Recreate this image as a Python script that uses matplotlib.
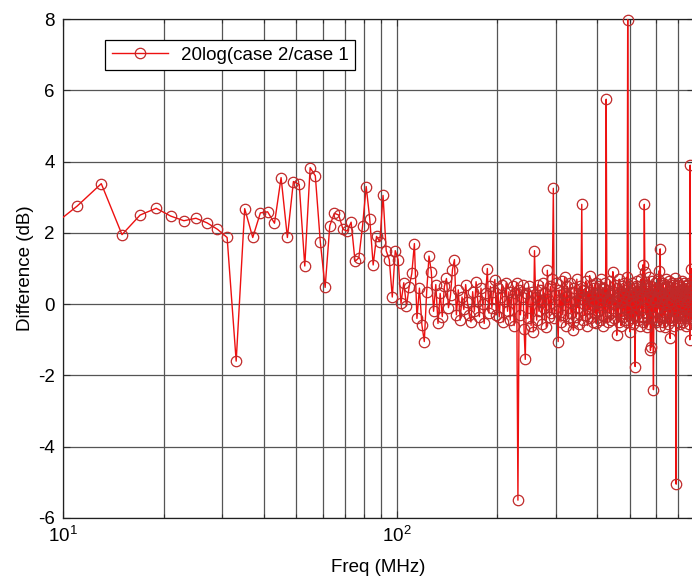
import numpy as np
import matplotlib
matplotlib.use("Agg")
import matplotlib.pyplot as plt
from matplotlib.lines import Line2D
from matplotlib.ticker import LogLocator, NullFormatter, MultipleLocator

# frequency sweep: 2 MHz steps, 9 .. 771 MHz
freq = np.arange(9, 773, 2)

# 20log(case2/case1) in dB
diff_9_61 = [2.1, 2.75, 3.38, 1.95, 2.5, 2.69, 2.47, 2.34, 2.41, 2.28,
             2.1, 1.87, -1.6, 2.68, 1.87, 2.56, 2.59, 2.27, 3.55, 1.87,
             3.44, 3.36, 1.07, 3.83, 3.6, 1.75, 0.47]
diff_63_99 = [2.2, 2.55, 2.5, 2.1, 2.05, 2.3, 1.2, 1.3, 2.2, 3.3,
              2.4, 1.1, 1.9, 1.75, 3.05, 1.5, 1.25, 0.2, 1.5]
diff_101_199 = [1.25, 0.02, 0.6, -0.05, 0.49, 0.86, 1.7, -0.4, 0.45, -0.58,
                -1.05, 0.35, 1.35, 0.91, -0.2, 0.55, -0.54, 0.3, -0.35, 0.5,
                0.72, -0.1, 0.25, 0.97, 1.25, -0.3, 0.4, -0.45, 0.2, -0.15,
                0.55, 0.05, -0.3, -0.5, 0.35, -0.2, 0.63, 0.1, -0.35, 0.45,
                0.0, -0.54, 0.3, 1.0, -0.25, 0.5, -0.1, 0.35, 0.69, -0.3]
diff_201_299 = [0.45, -0.36, 0.2, 0.55, -0.5, 0.1, 0.6, -0.2, 0.35, -0.45,
                0.15, 0.5, -0.6, 0.3, 0.6, -5.5, 0.4, -0.3, 0.2, 0.55,
                -0.7, -1.55, 0.3, -0.4, 0.5, 0.1, -0.6, 0.35, -0.78, 1.5,
                0.2, -0.45, 0.55, -0.2, 0.4, 0.05, -0.55, 0.6, -0.1, 0.3,
                -0.65, 0.95, 0.15, -0.35, 0.5, -0.25, 0.7, 3.25, -0.4, 0.25]
diff_301_399 = [0.6, -0.2, -1.05, 0.4, 0.1, -0.5, 0.65, -0.3, 0.3, 0.75,
                -0.6, 0.2, 0.5, -0.4, 0.05, 0.6, -0.25, 0.35, -0.5, -0.73,
                0.45, 0.1, -0.35, 0.7, -0.1, 0.3, -0.55, 0.5, 0.15, 2.8,
                -0.45, 0.4, 0.0, -0.3, 0.65, 0.2, -0.6, 0.35, -0.15, 0.8,
                -0.4, 0.25, 0.55, -0.5, 0.1, 0.45, -0.25, 0.6, -0.54, 0.3]
diff_401_499 = [-0.2, 0.5, 0.05, -0.45, 0.7, 0.2, -0.3, 0.45, -0.6, 0.3,
                0.6, -0.35, 5.75, 0.1, -0.5, 0.4, 0.15, -0.25, 0.65, -0.45,
                0.25, 0.0, 0.91, -0.4, 0.35, 0.55, -0.2, 0.1, -0.87, 0.45,
                0.2, -0.5, 0.7, -0.1, 0.35, -0.6, 0.5, 0.05, -0.35, 0.6,
                0.25, -0.45, 0.4, -0.15, 0.75, -0.5, 7.98, 0.2, -0.3, 0.5]
diff_501_599 = [-0.78, 0.35, 0.1, -0.4, 0.6, 0.25, -0.55, 0.45, 0.0, -1.75,
                0.5, -0.3, 0.3, 0.65, -0.45, 0.15, 0.5, -0.6, 0.35, -0.1,
                0.7, -0.35, 0.2, 1.1, -0.5, 0.4, 2.8, 0.9, -0.25, 0.55,
                0.1, -0.65, 0.45, 0.2, -0.4, 0.75, -0.55, 0.3, -1.3, 0.5,
                -1.2, 0.15, 0.65, -0.35, -2.4, 0.4, -0.2, 0.6, 0.1, -0.5]
diff_601_699 = [0.45, 0.2, -0.45, 0.7, -0.1, 0.35, 0.94, -0.6, 1.55, 0.3,
                -0.35, 0.55, 0.05, -0.5, 0.6, 0.2, -0.3, 0.45, -0.65, 0.3,
                0.7, -0.2, 0.15, 0.5, -0.55, 0.35, 0.0, -0.4, 0.65, 0.25,
                -0.96, 0.4, 0.1, -0.45, 0.6, -0.2, 0.3, 0.55, -0.6, 0.2,
                0.45, 0.72, -0.35, 0.3, -5.05, 0.5, -0.25, 0.35, -0.5, 0.6]
diff_701_771 = [0.15, -0.4, 0.55, 0.2, -0.55, 0.4, 0.0, -0.3, 0.65, 0.25,
                -0.5, 0.45, 0.1, -0.35, 0.6, -0.15, 0.3, -0.6, 0.5, 0.2,
                -0.4, 0.55, 0.05, -0.3, 0.45, -0.55, 0.3, 0.6, -1.0, 3.9,
                0.2, 1.0, -0.4, 0.35, -0.2, 0.5]

diff = np.array(diff_9_61 + diff_63_99 + diff_101_199 + diff_201_299 +
                diff_301_399 + diff_401_499 + diff_501_599 + diff_601_699 +
                diff_701_771)

legend_label = "20log(case 2/case 1"

plt.rcParams['font.family'] = ['Liberation Sans', 'DejaVu Sans']
plt.rcParams['mathtext.fontset'] = 'custom'
plt.rcParams['mathtext.rm'] = 'Liberation Sans'
plt.rcParams['mathtext.default'] = 'regular'
plt.rcParams['axes.unicode_minus'] = False

FS = 13.5
LINE_C = '#ee1010'
MARK_C = '#c02a2a'

fig = plt.figure(figsize=(6.92, 5.79), dpi=100)
# axes box in pixels: left 63, right just past the image edge, top 19, bottom 518
left_px, right_px, top_px, bot_px = 63.3, 693.5, 19.0, 518.0
ax = fig.add_axes([left_px / 692, (579 - bot_px) / 579,
                   (right_px - left_px) / 692, (bot_px - top_px) / 579])

decade_px = 333.4
x_right = 10 ** (1 + (right_px - left_px) / decade_px)
ax.set_xscale('log')
ax.set_xlim(10, x_right)
ax.set_ylim(-6, 8)

# line is clipped at the axes, markers (only for points in range) are not
ax.plot(freq, diff, color=LINE_C, lw=1.0, zorder=3)
inside = (freq >= 10) & (freq <= x_right)
ax.plot(freq[inside], diff[inside], ls='none', marker='o', ms=7.5,
        mfc='none', mec=MARK_C, mew=0.9, clip_on=False, zorder=4)

ax.xaxis.set_major_locator(LogLocator(base=10, numticks=10))
ax.xaxis.set_minor_locator(LogLocator(base=10, subs=np.arange(2, 10), numticks=20))
ax.xaxis.set_minor_formatter(NullFormatter())
ax.yaxis.set_major_locator(MultipleLocator(2))

ax.tick_params(which='both', direction='in', top=True, right=True,
               labelsize=FS, width=0.8, color='#303030')
ax.tick_params(which='major', length=5, pad=6)
ax.tick_params(which='minor', length=3)

ax.set_axisbelow(True)
ax.grid(True, which='both', axis='x', color='#555555', lw=0.9)
ax.grid(True, which='major', axis='y', color='#555555', lw=0.9)
for sp in ax.spines.values():
    sp.set_color('#202020')
    sp.set_linewidth(0.9)

ax.set_xlabel('Freq (MHz)', fontsize=FS, labelpad=9)
ax.set_ylabel('Difference (dB)', fontsize=FS, labelpad=3)

handle = Line2D([], [], color=LINE_C, lw=1.0, marker='o', ms=7.5,
                mfc='none', mec=MARK_C, mew=0.9)
leg = ax.legend([handle], [legend_label], loc='upper left',
                bbox_to_anchor=((105 - left_px) / (right_px - left_px),
                                (bot_px - 40) / (bot_px - top_px)),
                borderaxespad=0, fontsize=FS, handlelength=3.0,
                handletextpad=0.7, borderpad=0.35, fancybox=False,
                framealpha=1, edgecolor='black')
leg.get_frame().set_linewidth(0.9)

fig.savefig('out.png', dpi=100)
